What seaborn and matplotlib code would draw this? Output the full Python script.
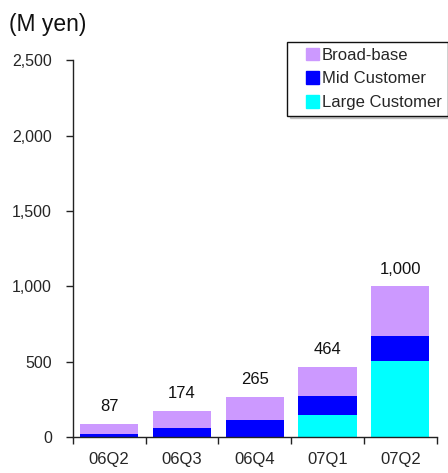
import matplotlib
matplotlib.use("Agg")
import matplotlib.pyplot as plt
import matplotlib.patches as mpatches
from matplotlib.legend_handler import HandlerPatch
import numpy as np
import seaborn as sns

# Quarterly sales by customer segment (M yen)
quarters = ["06Q2", "06Q3", "06Q4", "07Q1", "07Q2"]
large_customer = [2, 2, 3, 147, 507]
mid_customer = [20, 60, 108, 126, 166]
broad_base = [65, 112, 154, 191, 327]

y_ticks = [0, 500, 1000, 1500, 2000, 2500]

segment_names = ["Large Customer", "Mid Customer", "Broad-base"]
segment_colors = ["#00FFFF", "#0000FF", "#CC99FF"]

sns.set_style("ticks")
plt.rcParams["font.family"] = ["Liberation Sans", "DejaVu Sans"]

fig = plt.figure(figsize=(4.48, 4.73), dpi=100)
ax = fig.add_axes([72.7 / 448, 1 - 437 / 473, (436.7 - 72.7) / 448, (437 - 60.5) / 473])

# Cumulative heights for stacking: draw tallest layer first
layers = [large_customer, mid_customer, broad_base]
cum = np.cumsum(np.array(layers), axis=0)
for i in reversed(range(len(layers))):
    sns.barplot(x=quarters, y=cum[i], color=segment_colors[i], saturation=1,
                width=0.8, ax=ax, linewidth=0, zorder=2)

totals = cum[-1]
for xi, tot in enumerate(totals):
    ax.annotate(f"{int(tot):,}", xy=(xi, tot), xytext=(0, 7), textcoords="offset points",
                ha="center", va="bottom", fontsize=12, color="#111111")

ax.set_ylim(0, 2500)
ax.set_xlim(-0.5, len(quarters) - 0.5)
ax.set_yticks(y_ticks)
ax.set_yticklabels([f"{v:,}" for v in y_ticks], fontsize=11.5)
ax.set_xticks(range(len(quarters)))
ax.set_xticklabels(quarters, fontsize=12)
ax.tick_params(axis="x", which="major", length=0, pad=11)
ax.set_xticks(np.arange(-0.5, len(quarters)), minor=True)
ax.tick_params(axis="x", which="minor", length=5, direction="out", width=1, color="#222222")
ax.tick_params(axis="y", length=5, direction="out", width=1, color="#222222", pad=10)
ax.set_xlabel("")
ax.set_ylabel("")
for side in ["top", "right"]:
    ax.spines[side].set_visible(False)
for side in ["left", "bottom"]:
    ax.spines[side].set_color("#222222")
    ax.spines[side].set_linewidth(1)
    ax.spines[side].set_zorder(3)


def square_handle(legend, orig_handle, xdescent, ydescent, width, height, fontsize):
    # square swatch pushed to the right end of the handle box
    side = height * 1.05
    return mpatches.Rectangle((width - side - xdescent, -ydescent - 0.05 * height), side, side)


handles = [mpatches.Patch(color=segment_colors[i], label=segment_names[i])
           for i in reversed(range(len(segment_names)))]
leg = ax.legend(handles=handles, loc="upper right",
                bbox_to_anchor=(447.5 / 448, 1 - 41.7 / 473), bbox_transform=fig.transFigure,
                borderaxespad=0, fontsize=12, frameon=True, fancybox=False,
                handlelength=1.6, handleheight=0.75, handletextpad=0.15,
                labelspacing=0.52, borderpad=0.35,
                handler_map={mpatches.Patch: HandlerPatch(patch_func=square_handle)},
                shadow={"color": "#9a9a9a", "alpha": 0.5})
leg.get_frame().set_edgecolor("#111111")
leg.get_frame().set_linewidth(1)

fig.text(9 / 448, 1 - 24 / 473, "(M yen)", fontsize=16.5, ha="left", va="center", color="#111111")

fig.savefig("out.png", dpi=100)
